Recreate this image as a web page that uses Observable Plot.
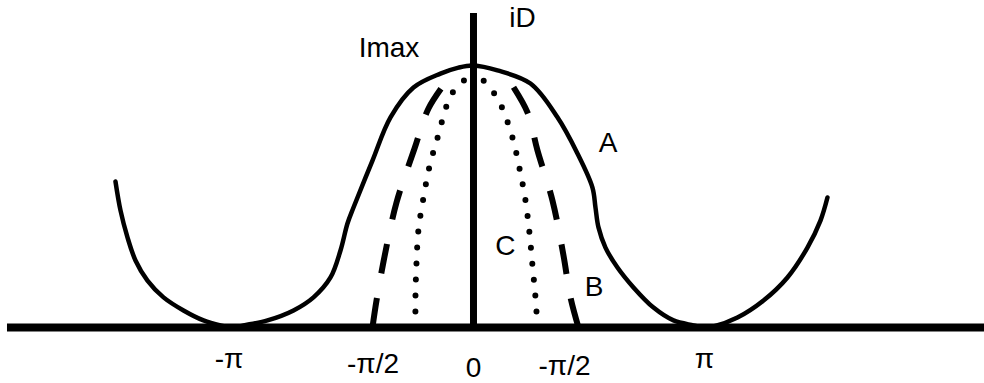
<!DOCTYPE html>
<html><head><meta charset="utf-8">
<script src="https://cdn.jsdelivr.net/npm/d3@7"></script>
<script src="https://cdn.jsdelivr.net/npm/@observablehq/plot@0.6"></script>
<style>html,body{margin:0;padding:0;background:#fff}svg{display:block}</style>
</head><body><div id="chart"></div>
<script>
// x in radians (phase), y as fraction of Imax (iD / Imax)
const curveA = [
  [-4.869,0.557],[-4.801,0.447],[-4.706,0.344],[-4.597,0.256],[-4.434,0.179],[-4.216,0.115],
  [-3.944,0.065],[-3.672,0.027],[-3.441,0.008],[-3.278,0.0],[-3.128,0.008],[-2.802,0.027],
  [-2.448,0.065],[-2.176,0.115],[-1.945,0.191],[-1.809,0.294],[-1.714,0.397],[-1.632,0.458],
  [-1.374,0.637],[-1.129,0.802],[-0.816,0.916],[-0.449,0.969],[-0.204,0.992],[0,1.0],
  [0.326,0.981],[0.775,0.931],[1.142,0.802],[1.414,0.664],[1.618,0.534],[1.659,0.458],
  [1.700,0.382],[1.795,0.305],[1.958,0.229],[2.176,0.153],[2.448,0.076],[2.720,0.027],
  [2.992,0.008],[3.128,0.0],[3.264,0.004],[3.590,0.038],[3.944,0.103],[4.270,0.191],
  [4.542,0.305],[4.719,0.408],[4.814,0.496]
];
const curveBLeft = [[-1.374,0],[-1.319,0.103],[-1.210,0.271],[-1.047,0.477],[-0.802,0.683],[-0.612,0.836],[-0.381,0.935]];
const curveBRight = [[1.428,0],[1.319,0.115],[1.224,0.275],[1.074,0.485],[0.870,0.676],[0.734,0.821],[0.503,0.935]];
const curveCLeft = [[-0.789,0],[-0.789,0.122],[-0.775,0.248],[-0.748,0.374],[-0.680,0.496],[-0.598,0.615],[-0.476,0.737],[-0.354,0.855],[-0.245,0.912],[-0.095,0.950]];
const curveCRight = [[0.870,0],[0.843,0.115],[0.802,0.237],[0.762,0.359],[0.707,0.485],[0.626,0.607],[0.530,0.725],[0.381,0.844],[0.272,0.897],[0.136,0.943]];
const peak = [[0, 1.0]];

const tickX = [-3.325, -1.367, 0, 1.238, 3.142];
const tickY = [-0.156, -0.172, -0.187, -0.183, -0.156];
const tickLabels = ["-π", "-π/2", "0", "-π/2", "π"];

const noteText = ["iD", "Imax", "A", "B", "C"];
const noteX = [0.666, -1.149, 1.829, 1.639, 0.435];
const noteY = [1.145, 1.031, 0.668, 0.122, 0.275];

const xAxisExtent = [-6.338, 6.95];
const yAxisTop = 1.198;

const ticks = tickLabels.map((t, i) => ({x: tickX[i], y: tickY[i], t}));
const notes = noteText.map((t, i) => ({x: noteX[i], y: noteY[i], t}));
const X = d => d[0], Y = d => d[1];

const chart = Plot.plot({
  width: 984,
  height: 383,
  margin: 0,
  x: {domain: [-6.433, 6.950], axis: null},
  y: {domain: [-0.2137, 1.248], axis: null},
  style: {fontFamily: "'Liberation Sans', Arial, sans-serif", background: "#fff", color: "#000"},
  marks: [
    Plot.line(curveA, {x: X, y: Y, curve: "catmull-rom", stroke: "#000", strokeWidth: 4.5}),
    Plot.line(curveBLeft, {x: X, y: Y, curve: "catmull-rom", stroke: "#000", strokeWidth: 6, strokeDasharray: "30,25", strokeLinecap: "butt"}),
    Plot.line(curveBRight, {x: X, y: Y, curve: "catmull-rom", stroke: "#000", strokeWidth: 6, strokeDasharray: "30,25", strokeLinecap: "butt"}),
    Plot.line(curveCLeft, {x: X, y: Y, curve: "catmull-rom", stroke: "#000", strokeWidth: 6, strokeDasharray: "0,16", strokeLinecap: "round"}),
    Plot.line(curveCRight, {x: X, y: Y, curve: "catmull-rom", stroke: "#000", strokeWidth: 6, strokeDasharray: "0,16", strokeLinecap: "round"}),
    Plot.dot(peak, {x: X, y: Y, r: 4, fill: "#000", stroke: "none"}),
    Plot.ruleY([0], {x1: xAxisExtent[0], x2: xAxisExtent[1], stroke: "#000", strokeWidth: 8}),
    Plot.ruleX([0], {y1: 0, y2: yAxisTop, stroke: "#000", strokeWidth: 7}),
    Plot.text(ticks, {x: "x", y: "y", text: "t", fontSize: 28, lineAnchor: "bottom", fill: "#000"}),
    Plot.text(notes, {x: "x", y: "y", text: "t", fontSize: 28, lineAnchor: "bottom", fill: "#000"})
  ]
});
document.getElementById("chart").append(chart);
</script>
</body></html>
